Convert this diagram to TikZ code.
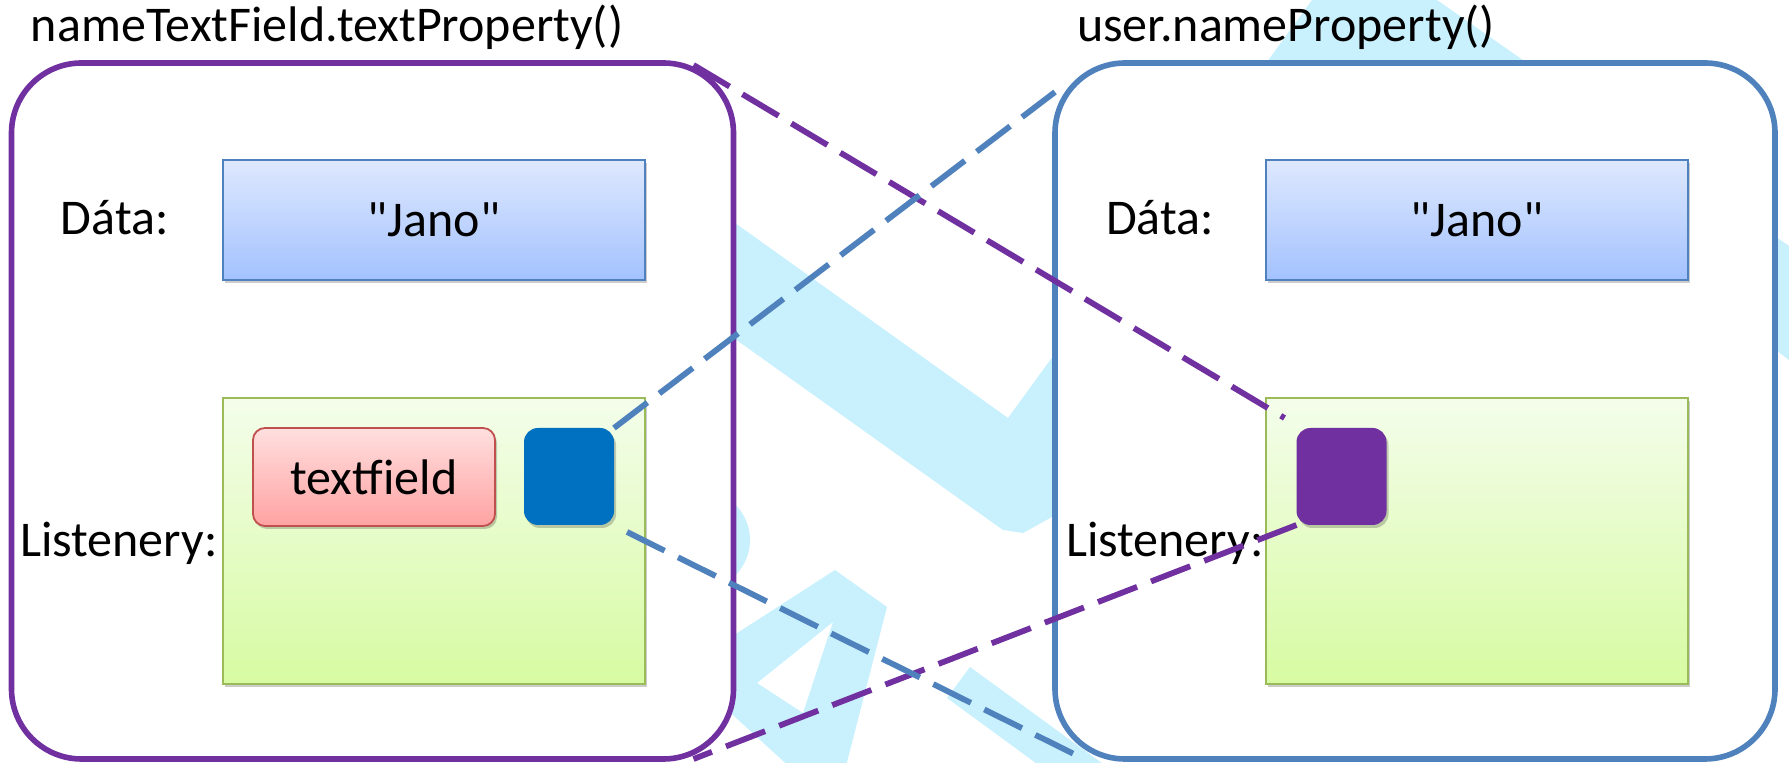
\documentclass[tikz,border=0pt]{standalone}
\usepackage{fontspec}
\newfontfamily\carlito{Carlito}
\usetikzlibrary{calc,shadows}
\definecolor{propPurple}{HTML}{7030A0}
\definecolor{propBlue}{HTML}{4F81BD}
\definecolor{logoCyan}{HTML}{C9F1FD}
\definecolor{dataTop}{HTML}{DEE8FE}
\definecolor{dataBot}{HTML}{A3C2FE}
\definecolor{listTop}{HTML}{F4FDEB}
\definecolor{listBot}{HTML}{D7FBA2}
\definecolor{listLine}{HTML}{9BBB59}
\definecolor{tfTop}{HTML}{FFDFDF}
\definecolor{tfBot}{HTML}{FFA2A2}
\definecolor{tfLine}{HTML}{C0504D}
\definecolor{sqBlue}{HTML}{0070C0}
\begin{document}
\begin{tikzpicture}[x=0.5pt,y=-0.5pt,
  every node/.style={font=\carlito\fontsize{25}{29}\selectfont, inner sep=0pt, outer sep=0pt},
  property/.style={draw, line width=2.8pt, fill=white, rounded corners=35pt,
    minimum width=360pt, minimum height=348pt},
  softshadow/.style={drop shadow={shadow xshift=1pt, shadow yshift=-1.5pt, opacity=0.2, fill=black}},
  databox/.style={draw=propBlue, line width=0.9pt, top color=dataTop, bottom color=dataBot,
    minimum width=211pt, minimum height=60pt, softshadow},
  listbox/.style={draw=listLine, line width=1pt, top color=listTop, bottom color=listBot,
    minimum width=211pt, minimum height=143pt, softshadow},
  fieldbox/.style={draw=tfLine, line width=0.9pt, top color=tfTop, bottom color=tfBot,
    rounded corners=6pt, minimum width=121pt, minimum height=49pt, softshadow},
  listener/.style={rounded corners=7pt, minimum width=45pt, minimum height=48.5pt, softshadow},
  label/.style={anchor=base west},
  link/.style={line width=2.9pt, dash pattern=on 21pt off 7.5pt}
]
\useasboundingbox (0,0) rectangle (1789,763);

% faded logo in the background
\begin{scope}
  \clip (0,0) rectangle (1789,763);
  \fill[logoCyan] (700,198) -- (1008,418) -- (1312,0) -- (1437,0) -- (1789,246)
    -- (1789,360) -- (1600,217) -- (1200,400) -- (1060,514) -- (1052,517)
    -- (1023,533) -- (1003,530) -- (700,314) -- cycle;
  \fill[logoCyan, even odd rule] (700,657) -- (835,570) -- (887,607) -- (845,770)
    -- (793,770) -- (700,685) -- cycle
    (833,622) -- (757,683) -- (803,713) -- cycle;
  \fill[logoCyan] (700,540) circle[radius=50];
  \fill[logoCyan] (970,667) -- (1110,769) -- (1044,769) -- (947,698) -- cycle;
\end{scope}

% the two properties
\node[property, draw=propPurple, minimum width=361pt] (nameProp) at (372.5,411) {};
\node[property, draw=propBlue] (userProp) at (1415,411) {};

\node[label] (nameTitle) at (31,42) {nameTextField.textProperty()};
\node[label] (userTitle) at (1077,42) {user.nameProperty()};

% nameTextField.textProperty()
\node[label] (nameDataLbl) at (61,235) {Dáta:};
\node[databox] (nameData) at (434,220) {"Jano"};
\node[listbox] (nameList) at (434,541) {};
\node[label] (nameListLbl) at (20,557) {Listenery:};
\node[fieldbox] (nameField) at (374,477) {textfield};
\node[listener, fill=sqBlue] (nameSq) at (569,476.5) {};

% user.nameProperty()
\node[label] (userDataLbl) at (1106,235) {Dáta:};
\node[databox] (userData) at (1477,220) {"Jano"};
\node[listbox] (userList) at (1477,541) {};
\node[label] (userListLbl) at (1066,557) {Listenery:};
\node[listener, fill=propPurple] (userSq) at (1341.5,476.5) {};

% listener links
\draw[link, propPurple] ($(nameProp.north east)+(-40,2)$) -- ($(userSq.north west)+(-12,-10)$);
\draw[link, propPurple] (userSq.south west) -- ($(nameProp.south east)+(-40,0)$);
\draw[link, propBlue] (nameSq.north east) -- ($(userProp.north west)+(0,29)$);
\draw[link, propBlue] ($(nameSq.south east)+(13,7)$) -- ($(userProp.south west)+(29,0)$);
\end{tikzpicture}
\end{document}
